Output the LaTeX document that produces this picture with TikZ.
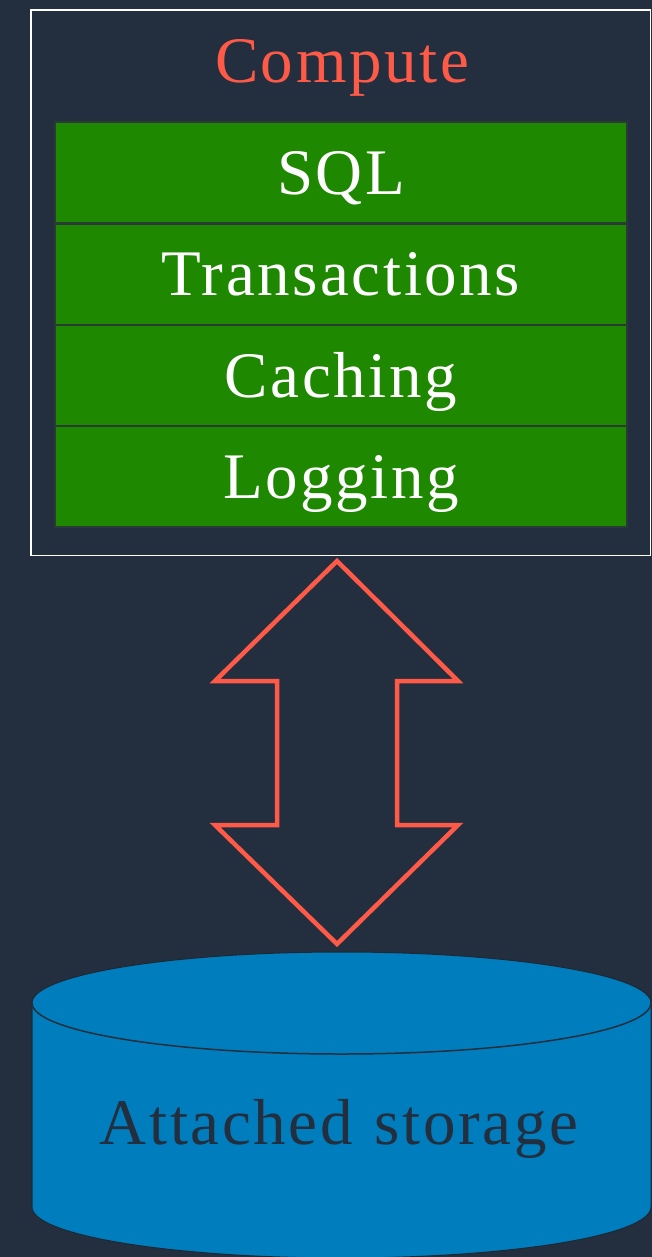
\documentclass[tikz,border=0pt]{standalone}
\usepackage{fontspec}
\setmainfont{Liberation Serif}[LetterSpace=4]
\definecolor{ink}{HTML}{232F3E}
\definecolor{alert}{HTML}{FF5A47}
\definecolor{leaf}{HTML}{1E8800}
\definecolor{disk}{HTML}{007DBC}
\definecolor{seam}{HTML}{2A3A34}
\tikzset{
  label text/.style={font=\fontsize{65}{70}\selectfont, inner sep=0pt,
    text height=43pt, text depth=0pt},
  layer/.style={label text, fill=leaf, draw=seam, line width=2pt, text=white,
    minimum width=572pt, minimum height=101.25pt},
  frame/.style={draw=white, line width=1.5pt, minimum width=619.5pt,
    minimum height=545pt, inner sep=0pt},
  bigarrow/.style={draw=alert, line width=4.5pt, line join=miter},
}
\begin{document}
\begin{tikzpicture}[x=1pt,y=-1pt]
  % canvas
  \fill[ink] (0,0) rectangle (652,1257);
  \useasboundingbox (0,0) rectangle (652,1257);

  % compute block
  \node[frame] (compute) at (340.75,282.75) {};
  \node[label text, text=alert] (title) at (342,61.5) {Compute};
  \node[layer] (sql)   at (341,172.75) {SQL};
  \node[layer] (txn)   at (341,274.25) {Transactions};
  \node[layer] (cache) at (341,375.65) {Caching};
  \node[layer] (log)   at (341,476.8)  {Logging};

  % storage cylinder (y axis points down, so +90 degrees is the lower side)
  \filldraw[fill=disk, draw=ink!85!black, line width=1pt]
    (32,1003) -- (32,1207)
    arc[start angle=180, end angle=0, x radius=309.5, y radius=51]
    -- (651,1003)
    arc[start angle=0, end angle=-180, x radius=309.5, y radius=51] -- cycle;
  \draw[ink, line width=1.5pt]
    (32,1003) arc[start angle=180, end angle=0, x radius=309.5, y radius=51];
  \node[label text, text=ink] (storage) at (339,1122.5) {Attached\hspace{22pt}storage};

  % double-headed block arrow between compute and storage
  \draw[bigarrow]
    (337,561) -- (458,681) -- (397,681) -- (397,825) -- (458,825)
    -- (337,944) -- (215,825) -- (277,825) -- (277,681) -- (215,681) -- cycle;
\end{tikzpicture}
\end{document}
